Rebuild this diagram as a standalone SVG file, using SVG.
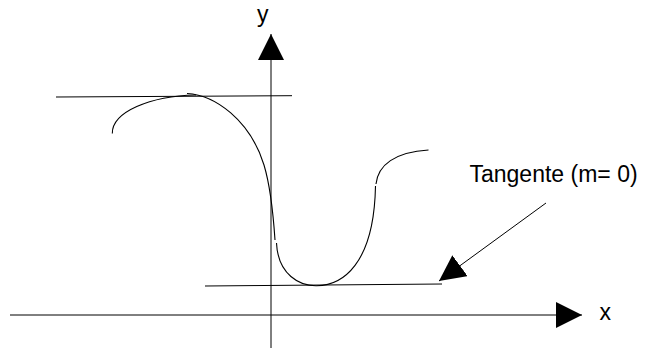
<svg xmlns="http://www.w3.org/2000/svg" width="645" height="349" viewBox="0 0 645 349">
<style>
.ax{stroke:#000;stroke-width:1;fill:none}
.crv{stroke:#000;stroke-width:1.1;fill:none}
.lbl{font-family:"Liberation Sans",Arial,sans-serif;font-size:23px;fill:#000}
</style>
<defs>
<marker id="ah" markerUnits="userSpaceOnUse" markerWidth="26" markerHeight="26" viewBox="0 0 25 25" refX="25" refY="12.5" orient="auto">
<path d="M0,0 L25,12.5 L0,25 Z" fill="#000"/>
</marker>
</defs>
<rect width="645" height="349" fill="#fff"/>
<g id="connectors">
<line id="x-axis" class="ax" x1="10" y1="315" x2="582" y2="315" marker-end="url(#ah)"/>
<line id="y-axis" class="ax" x1="271" y1="348" x2="271" y2="34" marker-end="url(#ah)"/>
<line id="tangent-top" class="ax" x1="56" y1="97" x2="292" y2="95.7"/>
<line id="tangent-bottom" class="ax" x1="205" y1="286" x2="442" y2="284"/>
<line id="pointer" class="ax" x1="546" y1="203" x2="439" y2="281" marker-end="url(#ah)"/>
</g>
<g id="curve">
<path class="crv" d="M112.3,133.5 C112,112 150,96 196,95"/>
<path class="crv" d="M187,93.5 C215,95 250,120 264,165 C270,185 273,210 275,240"/>
<path class="crv" d="M276.5,243 C278,275 300,286 316.7,285.7 C342,285.5 374,265 375.5,186"/>
<path class="crv" d="M376,184 C378,165 395,152 428.5,150"/>
</g>
<g id="label-y"><text class="lbl" x="257" y="21.5">y</text></g>
<g id="label-x"><text class="lbl" x="599.5" y="319.5">x</text></g>
<g id="label-tangente"><text class="lbl" x="469.5" y="182">Tangente (m= 0)</text></g>
</svg>
